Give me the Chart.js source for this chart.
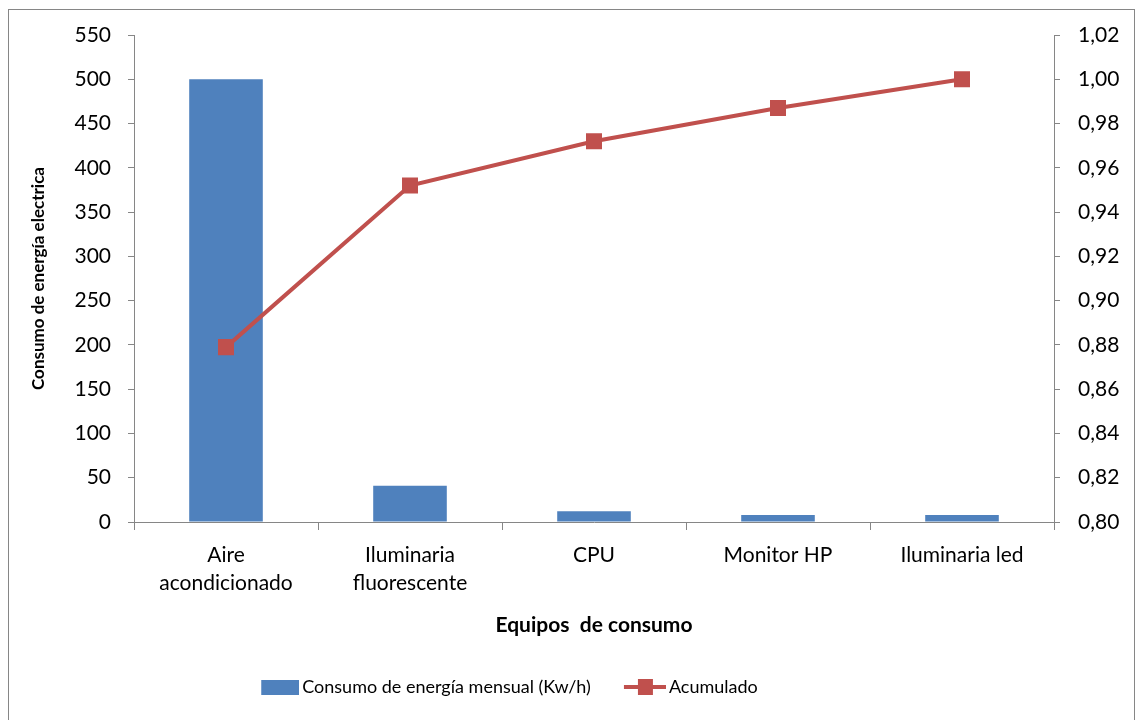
<!DOCTYPE html>
<html>
<head>
<meta charset="UTF-8">
<title>Consumo de energía</title>
<script src="https://cdn.jsdelivr.net/npm/chart.js"></script>
<style>
  html, body { margin: 0; padding: 0; background: #fff; }
  #frame { position: absolute; left: 8px; top: 9px; width: 1127px; height: 720px; border: 1px solid #868686; box-sizing: border-box; }
  #myChart { position: absolute; left: 0; top: 0; }
</style>
</head>
<body>
<div id="frame"></div>
<canvas id="myChart" width="1135" height="720"></canvas>
<script>
// datos
var equipos = [['Aire', 'acondicionado'], ['Iluminaria', 'fluorescente'], 'CPU', 'Monitor HP', 'Iluminaria led'];
var consumo = [500, 41, 12, 8, 8];
var acumulado = [0.879, 0.952, 0.972, 0.987, 1.00];
var ticksIzq = [0, 50, 100, 150, 200, 250, 300, 350, 400, 450, 500, 550];
var ticksDer = [0.80, 0.82, 0.84, 0.86, 0.88, 0.90, 0.92, 0.94, 0.96, 0.98, 1.00, 1.02];

var azul = '#4F81BD';
var rojo = '#C0504D';
var gris = '#868686';
var fuente = 'Lato, "Open Sans", sans-serif';

// iconos de la leyenda (el contenido va pegado al texto, como en Excel)
function icono(tipo) {
    var c = document.createElement('canvas');
    c.width = 54; c.height = 18;
    var g = c.getContext('2d');
    if (tipo === 'bar') {
        g.fillStyle = azul;
        g.fillRect(16, 2, 38, 15);
    } else {
        g.strokeStyle = rojo;
        g.lineWidth = 4;
        g.beginPath(); g.moveTo(12, 9); g.lineTo(54, 9); g.stroke();
        g.fillStyle = rojo;
        g.fillRect(26, 1, 15, 16);
    }
    return c;
}
var iconos = [icono('bar'), icono('line')];

// la leyenda de Excel no esta centrada en el lienzo
var moverLeyenda = {
    id: 'moverLeyenda',
    afterLayout: function (ch) {
        ch.legend.left -= 63;
        ch.legend.right -= 63;
    }
};

var ctx = document.getElementById('myChart').getContext('2d');
var chart = new Chart(ctx, {
    type: 'bar',
    data: {
        labels: equipos,
        datasets: [{
            type: 'bar',
            label: 'Consumo de energía mensual (Kw/h)',
            data: consumo,
            backgroundColor: azul,
            yAxisID: 'y',
            barPercentage: 0.4,
            categoryPercentage: 1,
            order: 2
        }, {
            type: 'line',
            label: 'Acumulado',
            data: acumulado,
            borderColor: rojo,
            backgroundColor: rojo,
            borderWidth: 4,
            pointStyle: 'rect',
            pointRadius: 8.5,
            pointHoverRadius: 8.5,
            tension: 0,
            yAxisID: 'y1',
            order: 1
        }]
    },
    plugins: [moverLeyenda],
    options: {
        responsive: false,
        animation: false,
        devicePixelRatio: 1,
        layout: { padding: { top: 35, left: 0, right: 0, bottom: 14 } },
        plugins: {
            tooltip: { enabled: false },
            legend: {
                position: 'bottom',
                labels: {
                    usePointStyle: true,
                    pointStyleWidth: 42,
                    boxHeight: 18,
                    padding: 27,
                    color: '#000',
                    font: { family: fuente, size: 18 },
                    sort: function (a, b) { return a.datasetIndex - b.datasetIndex; },
                    generateLabels: function (ch) {
                        var items = Chart.defaults.plugins.legend.labels.generateLabels(ch);
                        items.forEach(function (it) { it.pointStyle = iconos[it.datasetIndex]; });
                        return items;
                    }
                }
            }
        },
        scales: {
            x: {
                grid: { display: true, offset: true, drawOnChartArea: false, drawTicks: true, tickLength: 8, color: gris },
                border: { color: gris },
                ticks: { color: '#000', padding: 11, maxRotation: 0, font: { family: fuente, size: 21, lineHeight: 1.35 } },
                title: { display: true, text: 'Equipos  de consumo', color: '#000', padding: { top: 0, bottom: 13 }, font: { family: fuente, size: 21, weight: 'bold' } },
                afterFit: function (s) { s.height = 129; }
            },
            y: {
                position: 'left',
                min: ticksIzq[0],
                max: ticksIzq[ticksIzq.length - 1],
                afterBuildTicks: function (s) { s.ticks = ticksIzq.map(function (v) { return { value: v }; }); },
                grid: { drawOnChartArea: false, drawTicks: true, tickLength: 6, color: gris },
                border: { color: gris },
                ticks: { color: '#000', padding: 17, font: { family: fuente, size: 21 } },
                title: { display: true, text: 'Consumo de energía electrica', color: '#000', padding: { top: 28, bottom: 0 }, font: { family: fuente, size: 17, weight: 'bold' } },
                afterFit: function (s) { s.width = 134; }
            },
            y1: {
                position: 'right',
                min: ticksDer[0],
                max: ticksDer[ticksDer.length - 1],
                afterBuildTicks: function (s) { s.ticks = ticksDer.map(function (v) { return { value: v }; }); },
                grid: { drawOnChartArea: false, drawTicks: true, tickLength: 6, color: gris },
                border: { color: gris },
                ticks: {
                    color: '#000', padding: 18, font: { family: fuente, size: 21 },
                    callback: function (v) { return v.toFixed(2).replace('.', ','); }
                },
                afterFit: function (s) { s.width = 81; }
            }
        }
    }
});
</script>
</body>
</html>
